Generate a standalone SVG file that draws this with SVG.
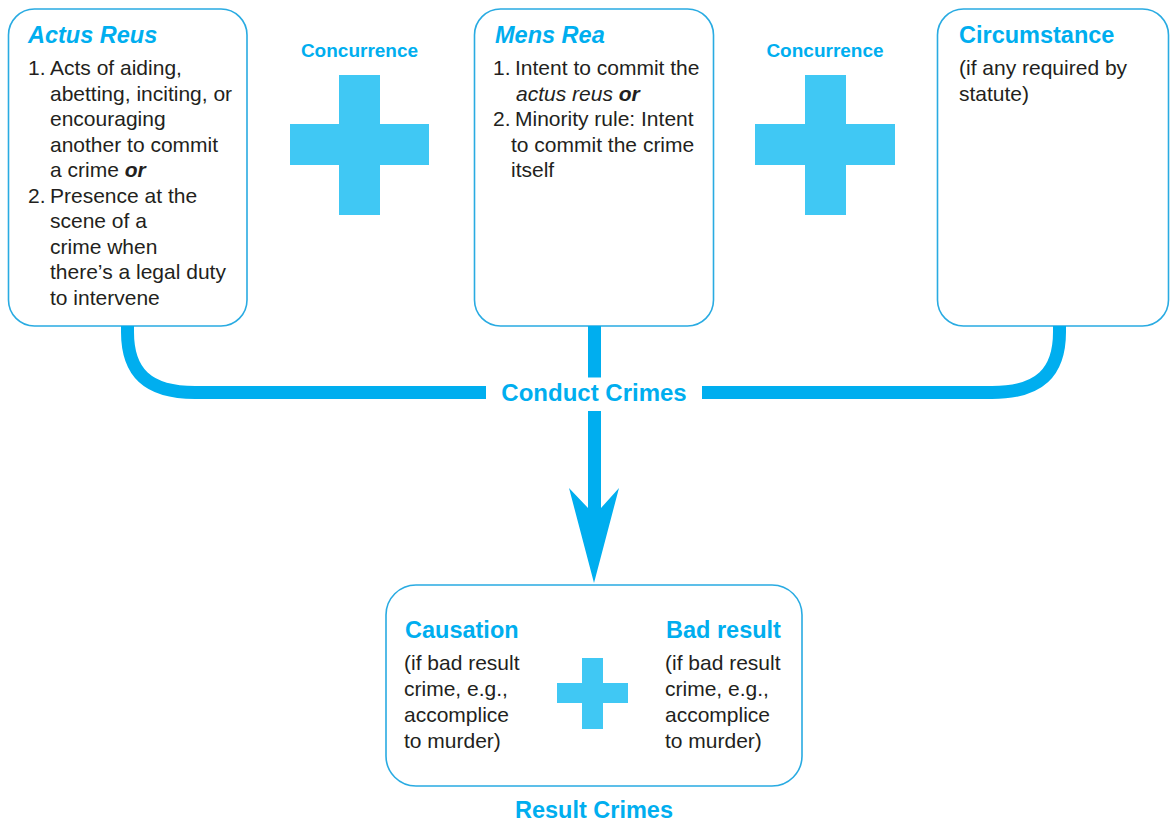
<svg xmlns="http://www.w3.org/2000/svg" width="1170" height="822" viewBox="0 0 1170 822">
<style>
.box{fill:#fff;stroke:#29abe2;stroke-width:1.6}
.ttl{font-family:"Liberation Sans",Arial,sans-serif;font-weight:bold;fill:#00aeef}
.t22{font-size:23.5px}
.con{font-size:19px}
.txt{font-family:"Liberation Sans",Arial,sans-serif;font-size:21px;fill:#231f20}
.bi{font-weight:bold;font-style:italic}
.it{font-style:italic}
.plus{fill:#40c8f4}
.wire{fill:none;stroke:#00aeef;stroke-width:13}
.arrow{fill:#00aeef}
</style>
<g id="actus-reus">
<rect class="box" x="8.5" y="9" width="238.5" height="317" rx="26"/>
<text class="ttl t22 it" x="28" y="43">Actus Reus</text>
<text class="txt" x="28" y="75">1.</text>
<text class="txt" x="50" y="75">Acts of aiding,</text>
<text class="txt" x="50" y="100.5">abetting, inciting, or</text>
<text class="txt" x="50" y="126">encouraging</text>
<text class="txt" x="50" y="151.5">another to commit</text>
<text class="txt" x="50" y="177">a crime <tspan class="bi">or</tspan></text>
<text class="txt" x="28" y="202.5">2.</text>
<text class="txt" x="50" y="202.5">Presence at the</text>
<text class="txt" x="50" y="228">scene of a</text>
<text class="txt" x="50" y="253.5">crime when</text>
<text class="txt" x="50" y="279">there’s a legal duty</text>
<text class="txt" x="50" y="304.5">to intervene</text>
</g>
<g id="concurrence-1">
<text class="ttl con" x="359.5" y="57" text-anchor="middle">Concurrence</text>
<path class="plus" d="M339,75H380V124H429V165H380V215H339V165H290V124H339Z"/>
</g>
<g id="mens-rea">
<rect class="box" x="474.5" y="9" width="239" height="317" rx="26"/>
<text class="ttl t22 it" x="495" y="43">Mens Rea</text>
<text class="txt" x="493" y="75">1.</text>
<text class="txt" x="515" y="75">Intent to commit the</text>
<text class="txt" x="516" y="100.5"><tspan class="it">actus reus </tspan><tspan class="bi">or</tspan></text>
<text class="txt" x="493" y="126">2.</text>
<text class="txt" x="515" y="126">Minority rule: Intent</text>
<text class="txt" x="511" y="151.5">to commit the crime</text>
<text class="txt" x="511" y="177">itself</text>
</g>
<g id="concurrence-2">
<text class="ttl con" x="825" y="57" text-anchor="middle">Concurrence</text>
<path class="plus" d="M805,75H846V124H895V165H846V215H805V165H755V124H805Z"/>
</g>
<g id="circumstance">
<rect class="box" x="937.5" y="9" width="231" height="317" rx="26"/>
<text class="ttl t22" x="959" y="43">Circumstance</text>
<text class="txt" x="959" y="75">(if any required by</text>
<text class="txt" x="959" y="100.5">statute)</text>
</g>
<g id="connectors">
<path class="wire" d="M127.5,326V332C127.5,372 147,392.5 195,392.5H486"/>
<path class="wire" d="M1059.5,326V332C1059.5,372 1040,392.5 992,392.5H702"/>
<path class="wire" d="M594.5,326V377.5"/>
<path class="arrow" d="M588,411H601V508L619,488L594,583L569,488L588,508Z"/>
</g>
<g id="conduct-crimes">
<text class="ttl" font-size="24" x="594" y="401" text-anchor="middle">Conduct Crimes</text>
</g>
<g id="result-box">
<rect class="box" x="386" y="585" width="416" height="201" rx="30"/>
<text class="ttl t22" x="405" y="638">Causation</text>
<text class="txt" x="404" y="670">(if bad result</text>
<text class="txt" x="404" y="696">crime, e.g.,</text>
<text class="txt" x="404" y="722">accomplice</text>
<text class="txt" x="404" y="747.5">to murder)</text>
<path class="plus" d="M582,658H603V683H628V703H603V729H582V703H557V683H582Z"/>
<text class="ttl t22" x="666" y="638">Bad result</text>
<text class="txt" x="665" y="670">(if bad result</text>
<text class="txt" x="665" y="696">crime, e.g.,</text>
<text class="txt" x="665" y="722">accomplice</text>
<text class="txt" x="665" y="747.5">to murder)</text>
</g>
<g id="result-crimes">
<text class="ttl t22" x="594" y="818" text-anchor="middle">Result Crimes</text>
</g>
</svg>
